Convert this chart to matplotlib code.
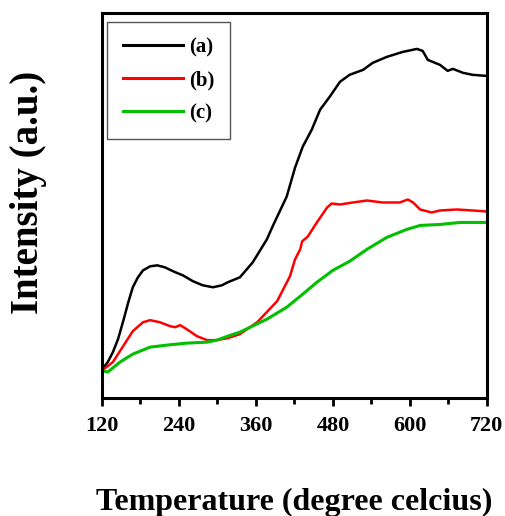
import matplotlib
matplotlib.use("Agg")
import matplotlib.pyplot as plt
from matplotlib.ticker import MultipleLocator

# temperature (degree C) / intensity (arbitrary units) for each trace
temp_a = [120, 123, 129, 137, 145, 153, 161, 168, 176, 184, 195, 206, 218, 231, 246,
          262, 277, 293, 307, 316, 335, 355, 377, 386, 408, 421, 433, 447, 460, 475,
          491, 506, 527, 542, 564, 589, 611, 620, 628, 647, 659, 667, 683, 698, 718, 720]
int_a = [28, 31, 36, 46, 59, 77, 96, 111, 121, 128, 132, 133, 131, 127, 123,
         117, 113, 111, 113, 116, 121, 136, 159, 172, 202, 231, 252, 269, 289, 302,
         317, 324, 329, 336, 342, 347, 350, 348, 339, 334, 328, 330, 326, 324, 323, 323]

temp_b = [120, 123, 137, 153, 168, 184, 195, 210, 226, 234, 242, 252, 268, 284, 299,
          316, 335, 362, 393, 413, 421, 429, 432, 441, 455, 471, 478, 491, 511, 533,
          558, 584, 597, 605, 616, 634, 647, 673, 698, 720]
int_b = [27, 29, 36, 52, 67, 76, 78, 76, 72, 71, 73, 69, 62, 58, 58,
         60, 64, 76, 97, 122, 139, 149, 157, 162, 176, 191, 195, 194, 196, 198,
         196, 196, 199, 196, 189, 186, 188, 189, 188, 187]

temp_c = [120, 123, 129, 148, 168, 195, 221, 252, 284, 299, 316, 335, 377, 408, 429,
          455, 480, 506, 533, 564, 595, 616, 647, 678, 720]
int_c = [27, 27, 26, 36, 44, 51, 53, 55, 56, 58, 62, 66, 79, 91, 102,
         116, 128, 137, 149, 161, 169, 173, 174, 176, 176]

labels = ["(a)", "(b)", "(c)"]
colors = ["black", "#ff0000", "#00c000"]
widths = [1.8, 1.8, 2.2]
x_ticks = [120, 240, 360, 480, 600, 720]

plt.rcParams["font.family"] = ["Liberation Serif", "DejaVu Serif"]
plt.rcParams["font.weight"] = "bold"

fig = plt.figure(figsize=(5.05, 5.16), dpi=100)
ax = fig.add_axes([0.202, 0.2287, 0.762, 0.7461])

series = zip([temp_a, temp_b, temp_c], [int_a, int_b, int_c], labels, colors, widths)
for t, v, lab, c, w in series:
    ax.plot(t, v, color=c, lw=w, label=lab, solid_joinstyle="round")

ax.set_xlim(120, 720)
ax.set_ylim(0, 386)
ax.set_xticks(x_ticks)
ax.set_xticklabels([str(t) for t in x_ticks], fontsize=16, fontweight="bold")
ax.xaxis.set_minor_locator(MultipleLocator(60))
ax.set_yticks([])
ax.tick_params(axis="x", which="major", direction="out", length=6, width=2, pad=7)
ax.tick_params(axis="x", which="minor", direction="out", length=4, width=2)
for sp in ax.spines.values():
    sp.set_linewidth(2.2)

ax.set_xlabel("Temperature (degree celcius)", fontsize=23, fontweight="bold", labelpad=37)
ax.set_ylabel("Intensity (a.u.)", fontsize=28, fontweight="bold")
# y label sits a little above the axes midline
ax.yaxis.set_label_coords(-0.143, 0.535)

leg = ax.legend(loc="upper left", bbox_to_anchor=(0.013, 0.977), borderaxespad=0,
                prop={"weight": "bold", "size": 15}, handlelength=2.9, handletextpad=0.3,
                labelspacing=0.62, borderpad=0.75, fancybox=False, framealpha=1,
                edgecolor="#555555")
leg.get_frame().set_linewidth(1.0)
for line in leg.get_lines():
    line.set_linewidth(2.2)

fig.savefig("out.png", dpi=100)
